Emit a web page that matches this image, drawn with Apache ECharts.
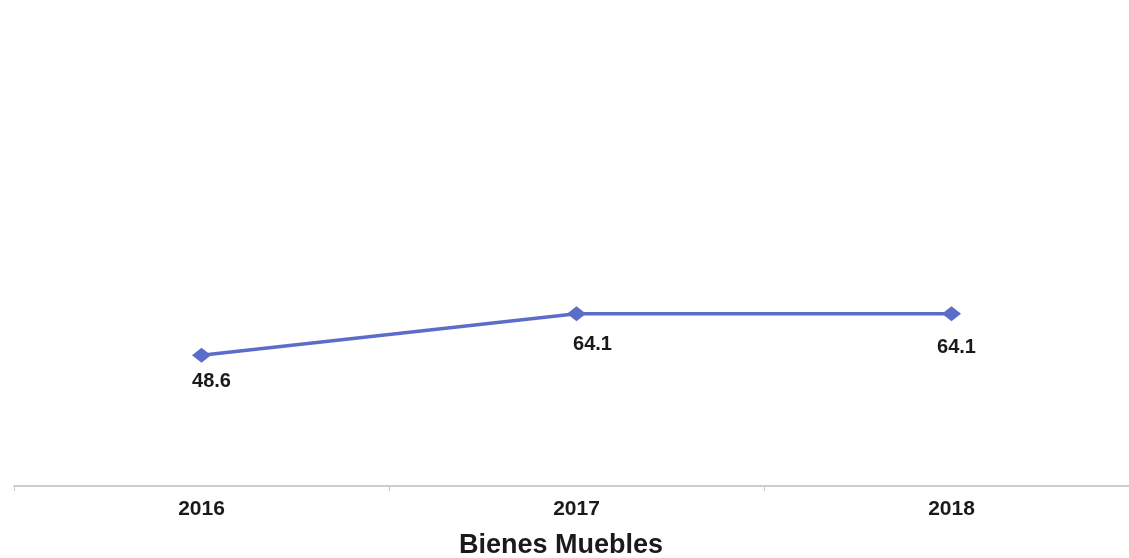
<!DOCTYPE html>
<html>
<head>
<meta charset="utf-8">
<script src="https://cdn.jsdelivr.net/npm/echarts@6/dist/echarts.min.js"></script>
<style>
  html, body { margin: 0; padding: 0; background: #ffffff; }
  #chart { width: 1129px; height: 558px; }
</style>
</head>
<body>
<div id="chart"></div>
<script>
const categories = ['2016', '2017', '2018'];
const values = [48.6, 64.1, 64.1];
const chartTitle = 'Bienes Muebles';

const labelOffsets = [[10, 26], [16, 31], [5, 34]];

const chart = echarts.init(document.getElementById('chart'), null, { renderer: 'canvas' });
chart.setOption({
  backgroundColor: '#ffffff',
  animation: false,
  title: {
    text: chartTitle,
    left: 556,
    top: 527,
    textAlign: 'center',
    textStyle: { fontFamily: 'Liberation Sans, Arial, sans-serif', fontWeight: 'bold', fontSize: 27, color: '#1a1a1a' }
  },
  grid: { left: 14, width: 1125, top: 2, bottom: 72, outerBoundsMode: 'none' },
  xAxis: {
    type: 'category',
    data: categories,
    boundaryGap: true,
    axisLine: { show: true, lineStyle: { color: '#bdbdbd', width: 1.5 } },
    axisTick: { show: true, length: 5, lineStyle: { color: '#c8c8c8' } },
    axisLabel: { margin: 13, fontFamily: 'Liberation Sans, Arial, sans-serif', fontWeight: 'bold', fontSize: 21, color: '#1a1a1a' },
    splitLine: { show: false }
  },
  yAxis: {
    type: 'value',
    min: 0,
    max: 180,
    show: false
  },
  series: [{
    type: 'line',
    data: values.map((v, i) => ({
      value: v,
      label: { offset: labelOffsets[i] }
    })),
    symbol: 'diamond',
    symbolSize: [19, 15],
    lineStyle: { color: '#5b6dc9', width: 3.5 },
    itemStyle: { color: '#5b6dc9' },
    label: {
      show: true,
      position: 'inside',
      fontFamily: 'Liberation Sans, Arial, sans-serif',
      fontWeight: 'bold',
      fontSize: 20,
      color: '#1a1a1a',
      formatter: p => p.value.toFixed(1)
    }
  }]
});
</script>
</body>
</html>
